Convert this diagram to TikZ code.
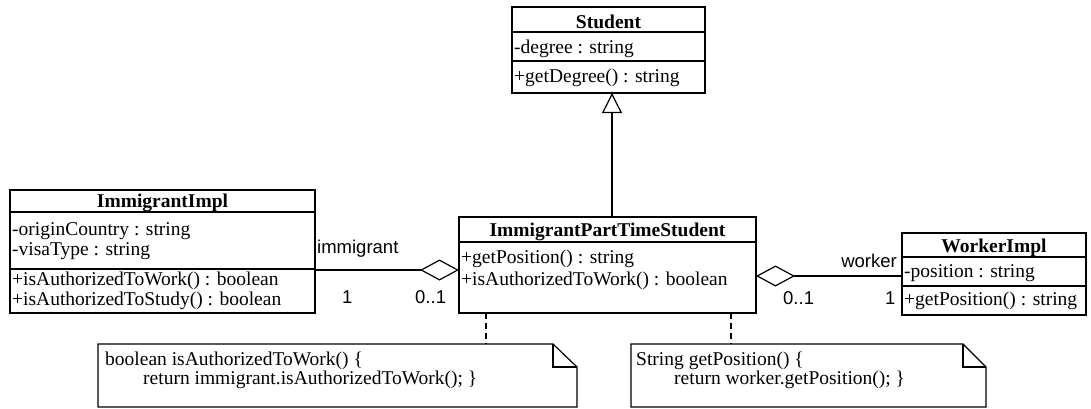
\documentclass[tikz,border=0pt]{standalone}
\usepackage{fontspec}
\setmainfont{Liberation Serif}
\newfontfamily\labelfont{Liberation Sans}
\usetikzlibrary{arrows.meta}

\tikzset{
  frame/.style={draw, line width=1.2pt, inner sep=0pt, outer sep=0pt, anchor=north west},
  sep/.style={line width=1.2pt},
  title/.style={inner sep=0pt, anchor=base, font=\fontsize{19.5}{20}\selectfont\bfseries},
  member/.style={inner sep=0pt, anchor=base west, font=\fontsize{19.5}{20}\selectfont},
  role/.style={inner sep=0pt, font=\labelfont\fontsize{18.5}{20}\selectfont},
  aggr/.style={line width=1.2pt, -{Diamond[open, length=39pt, width=21pt]}},
  inherit/.style={line width=1.2pt, -{Triangle[open, length=20pt, width=20pt]}},
  anchorline/.style={line width=1.2pt, dash pattern=on 6pt off 4pt},
  notebody/.style={inner sep=0pt, outer sep=0pt, anchor=north west},
}

\begin{document}
\begin{tikzpicture}[x=1pt, y=-1pt]
\useasboundingbox (0,0) rectangle (1091,408);

% Student
\node[frame, minimum width=193pt, minimum height=86pt] (student) at (512,7) {};
\draw[sep] (512,32) -- (705,32);
\draw[sep] (512,61) -- (705,61);
\node[title] (student-t) at (608.5,28) {Student};
\node[member] (student-a) at (514,53) {-degree : string};
\node[member] (student-m) at (514,82) {+getDegree() : string};

% ImmigrantImpl
\node[frame, minimum width=305pt, minimum height=123pt] (immi) at (10,190) {};
\draw[sep] (10,212) -- (315,212);
\draw[sep] (10,269) -- (315,269);
\node[title] (immi-t) at (162.5,207) {ImmigrantImpl};
\node[member] (immi-a1) at (12,235) {-originCountry : string};
\node[member] (immi-a2) at (12,255) {-visaType : string};
\node[member] (immi-m1) at (12,285) {+isAuthorizedToWork() : boolean};
\node[member] (immi-m2) at (12,305) {+isAuthorizedToStudy() : boolean};

% ImmigrantPartTimeStudent
\node[frame, minimum width=297pt, minimum height=96pt] (ipts) at (459,217) {};
\draw[sep] (459,242) -- (756,242);
\node[title] (ipts-t) at (607.5,236) {ImmigrantPartTimeStudent};
\node[member] (ipts-m1) at (461,263) {+getPosition() : string};
\node[member] (ipts-m2) at (461,285) {+isAuthorizedToWork() : boolean};

% WorkerImpl
\node[frame, minimum width=184pt, minimum height=82pt] (worker) at (902,233) {};
\draw[sep] (902,257) -- (1086,257);
\draw[sep] (902,286) -- (1086,286);
\node[title] (worker-t) at (994,252) {WorkerImpl};
\node[member] (worker-a) at (904,277) {-position : string};
\node[member] (worker-m) at (904,305) {+getPosition() : string};

% Generalization
\draw[inherit] (ipts.north -| 612,0) -- (student.south -| 612,0);

% Aggregations
\draw[aggr] (immi.east |- 0,270) -- (ipts.west |- 0,270);
\draw[aggr] (worker.west |- 0,276) -- (ipts.east |- 0,276);

% Role names and multiplicities
\node[role, anchor=base west] (l-role) at (317,253) {immigrant};
\node[role, anchor=base west] (l-mult1) at (342,303) {1};
\node[role, anchor=base west] (l-mult2) at (415,303) {0..1};
\node[role, anchor=base east] (r-role) at (897,267) {worker};
\node[role, anchor=base west] (r-mult1) at (783,304) {0..1};
\node[role, anchor=base west] (r-mult2) at (885,304) {1};

% Notes
\node[notebody, minimum width=479pt, minimum height=63pt] (note1) at (98,344) {};
\draw[line width=1.2pt] (note1.north west) -- ([xshift=-24pt]note1.north east)
  -- ([yshift=-23pt]note1.north east) -- (note1.south east) -- (note1.south west) -- cycle;
\draw[line width=1.2pt] ([xshift=-24pt]note1.north east) -- ([xshift=-24pt,yshift=-23pt]note1.north east)
  -- ([yshift=-23pt]note1.north east);
\node[member] (note1-l1) at (105,365) {boolean isAuthorizedToWork() \{};
\node[member] (note1-l2) at (143,384) {return immigrant.isAuthorizedToWork(); \}};

\node[notebody, minimum width=355pt, minimum height=63pt] (note2) at (631,344) {};
\draw[line width=1.2pt] (note2.north west) -- ([xshift=-23pt]note2.north east)
  -- ([yshift=-23pt]note2.north east) -- (note2.south east) -- (note2.south west) -- cycle;
\draw[line width=1.2pt] ([xshift=-23pt]note2.north east) -- ([xshift=-23pt,yshift=-23pt]note2.north east)
  -- ([yshift=-23pt]note2.north east);
\node[member] (note2-l1) at (636,365) {String getPosition() \{};
\node[member] (note2-l2) at (674,384) {return worker.getPosition(); \}};

% Note anchors
\draw[anchorline] (ipts.south -| 486,0) -- (note1.north -| 486,0);
\draw[anchorline] (ipts.south -| 731,0) -- (note2.north -| 731,0);
\end{tikzpicture}
\end{document}
